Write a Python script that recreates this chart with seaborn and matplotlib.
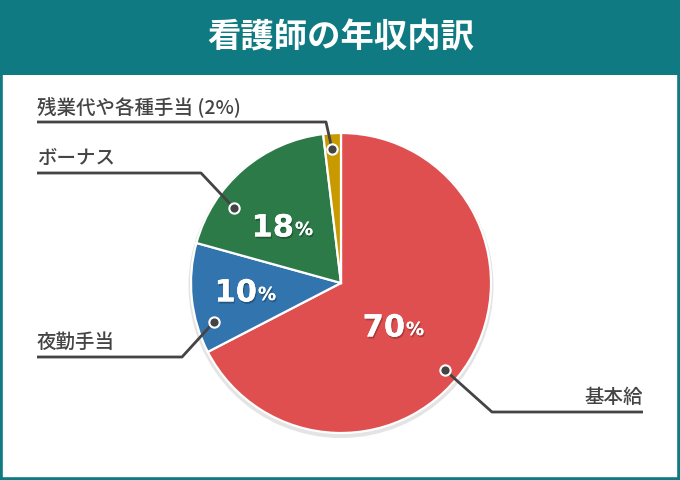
import matplotlib
matplotlib.use("Agg")
import matplotlib.pyplot as plt
import matplotlib.patheffects as pe
from matplotlib.patches import Rectangle, Circle
import seaborn as sns

# data
categories = ["基本給", "夜勤手当", "ボーナス", "残業代や各種手当"]
shares = [67.4, 11.9, 18.8, 1.9]          # wedge sizes as drawn
pct_labels = ["70", "10", "18", None]      # printed numbers
colors = ["#e04f4f", "#3274ad", "#2b7a48", "#c99a00"]
title = "看護師の年収内訳"

sns.set_theme(style="white")
plt.rcParams["font.family"] = ["Noto Sans CJK JP", "DejaVu Sans"]

teal = "#0f7a82"
ink = "#444444"

fig = plt.figure(figsize=(6.8, 4.8), dpi=100)
ax = fig.add_axes([0, 0, 1, 1])

# pie
cx, cy, r = 341, 283, 150
ax.add_patch(Circle((cx, cy + 2.5), r + 2.5, facecolor="#e4e4e4", edgecolor="none", zorder=1))
ax.pie(shares, colors=colors, center=(cx, cy), radius=r, startangle=-90,
       counterclock=True, wedgeprops=dict(edgecolor="white", linewidth=1.6, zorder=2),
       frame=True)
ax.set_xlim(0, 680)
ax.set_ylim(480, 0)
ax.set_aspect("equal")
ax.axis("off")

# frame and title bar
ax.add_patch(Rectangle((0, 0), 680, 480, facecolor="white", edgecolor="none", zorder=0))
ax.add_patch(Rectangle((1.2, 1.2), 677.6, 477.6, facecolor="none", edgecolor=teal, lw=2.6, zorder=5))
ax.add_patch(Rectangle((0, 0), 680, 75, facecolor=teal, edgecolor="none", zorder=4))
ax.text(341, 38, title, color="white", fontsize=24, fontweight="bold",
        ha="center", va="center", zorder=6)

# percentage labels
pct_pos = [(393, 328), (245, 293), (282, 228)]
shadow = [pe.withSimplePatchShadow(offset=(0.8, -1.4), shadow_rgbFace="black", alpha=0.25),
          pe.Normal()]
for (x, y), num in zip(pct_pos, pct_labels[:3]):
    t1 = ax.text(x + 12, y, num, color="white", fontsize=22, fontweight="bold",
                 family="DejaVu Sans", ha="right", va="center", zorder=6)
    t2 = ax.text(x + 13, y + 2, "%", color="white", fontsize=13, fontweight="bold",
                 family="DejaVu Sans", ha="left", va="center", zorder=6)
    t1.set_path_effects(shadow)
    t2.set_path_effects(shadow)

# leader lines: dot -> elbow -> end, label
leaders = [
    ((445, 370), (492, 412), (643, 412), "基本給", "right"),
    ((214, 322), (182, 357), (37, 357), "夜勤手当", "left"),
    ((234, 208), (201, 173), (37, 173), "ボーナス", "left"),
    ((332, 149), (326, 122), (37, 122), "残業代や各種手当 (2%)", "left"),
]
for dot, elbow, end, label, side in leaders:
    ax.plot([dot[0], elbow[0], end[0]], [dot[1], elbow[1], end[1]],
            color=ink, lw=2, solid_capstyle="butt", zorder=7)
    ax.scatter([dot[0]], [dot[1]], s=55, color=ink, edgecolor="white", linewidth=1.5, zorder=8)
    ax.text(end[0], end[1] - 15, label, color=ink, fontsize=14, fontweight="medium",
            ha=side, va="center", zorder=7)

fig.savefig("out.png", dpi=100)
